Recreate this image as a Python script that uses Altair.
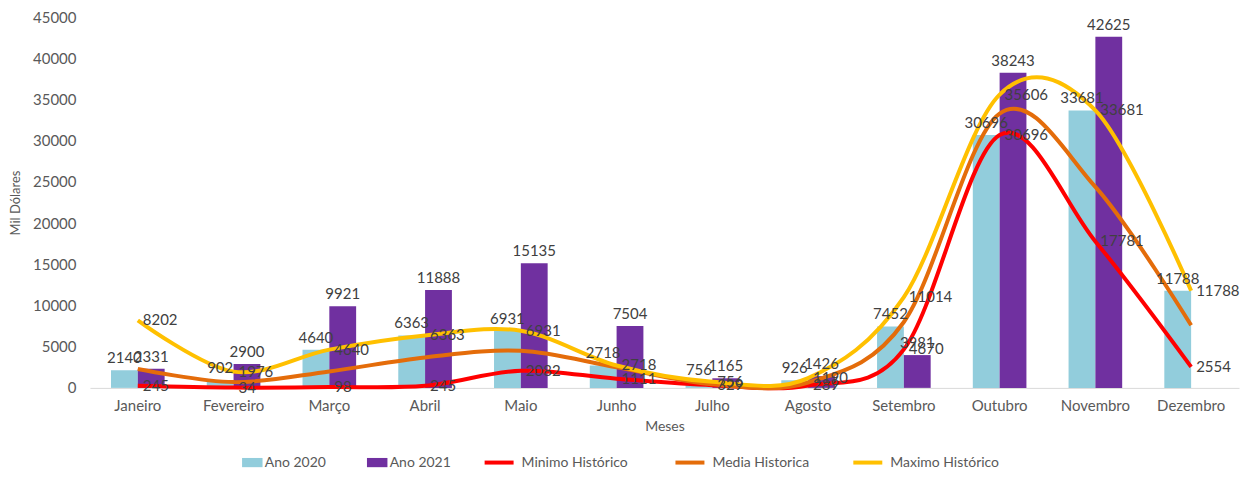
import altair as alt
import pandas as pd

meses = ["Janeiro", "Fevereiro", "Março", "Abril", "Maio", "Junho",
         "Julho", "Agosto", "Setembro", "Outubro", "Novembro", "Dezembro"]
ano2020 = [2140, 902, 4640, 6363, 6931, 2718, 756, 926, 7452, 30696, 33681, 11788]
ano2021 = [2331, 2900, 9921, 11888, 15135, 7504, 1165, 1426, 3981, 38243, 42625, None]
minimo = [245, 34, 98, 245, 2082, 1111, 329, 289, 4670, 30696, 17781, 2554]
media = [2300, 700, 2000, 3700, 4500, 2500, 450, 650, 8000, 33300, 24400, 7600]
maximo = [8202, 1976, 4640, 6363, 6931, 2718, 756, 1190, 11014, 35606, 33681, 11788]

bar_series = ["Ano 2020", "Ano 2021"]
bar_colors = ["#92cddc", "#7030a0"]
line_series = ["Minimo  Histórico", "Media Historica", "Maximo Histórico"]
line_colors = ["#ff0000", "#e46c0a", "#ffc000"]

bar_rows = []
for name, vals in zip(bar_series, [ano2020, ano2021]):
    for m, v in zip(meses, vals):
        if v is not None:
            bar_rows.append({"Mes": m, "Serie": name, "Valor": v})
df_bars = pd.DataFrame(bar_rows)

line_rows = []
for name, vals in zip(line_series, [minimo, media, maximo]):
    for m, v in zip(meses, vals):
        line_rows.append({"Mes": m, "Serie": name, "Valor": v})
df_lines = pd.DataFrame(line_rows)

FONT = "Lato"
GREY = "#595959"

x_enc = alt.X("Mes:N", sort=meses,
              scale=alt.Scale(paddingInner=0.44, paddingOuter=0.22),
              axis=alt.Axis(title="Meses", labelAngle=0, ticks=False,
                            domainColor="#d9d9d9", labelPadding=11,
                            labelFontSize=15, labelColor=GREY, labelFont=FONT,
                            titleFontSize=14, titleColor=GREY, titleFont=FONT,
                            titleFontWeight="normal", titlePadding=6))
y_enc = alt.Y("Valor:Q", scale=alt.Scale(domain=[0, 45000], nice=False),
              axis=alt.Axis(values=list(range(0, 45001, 5000)), format="d",
                            grid=False, domain=False, ticks=False,
                            labelPadding=14, labelFontSize=15, labelColor=GREY,
                            labelFont=FONT, title="Mil Dólares",
                            titleFontSize=13, titleColor=GREY, titleFont=FONT,
                            titleFontWeight="normal", titlePadding=10))
xoff = alt.XOffset("Serie:N", scale=alt.Scale(domain=bar_series,
                                              paddingInner=0, paddingOuter=0))

bars = alt.Chart(df_bars).mark_bar().encode(
    x=x_enc, y=y_enc, xOffset=xoff,
    color=alt.Color("Serie:N",
                    scale=alt.Scale(domain=bar_series, range=bar_colors),
                    legend=alt.Legend(orient="none", legendX=152, legendY=435,
                                      direction="horizontal", title=None,
                                      symbolType="M-1,-0.45H1V0.45H-1Z",
                                      symbolSize=420, symbolStrokeWidth=0,
                                      labelFontSize=14, labelColor=GREY,
                                      labelFont=FONT, columnPadding=40,
                                      labelOffset=2)))

bar_labels = alt.Chart(df_bars).mark_text(
    baseline="bottom", dy=-4, fontSize=15, font=FONT, color="#404040"
).encode(x=alt.X("Mes:N", sort=meses), y="Valor:Q", xOffset=xoff,
         text=alt.Text("Valor:Q", format="d"))

stroke_scale = alt.Scale(domain=line_series, range=line_colors)
line_legend = alt.Legend(orient="none", legendX=393, legendY=429,
                         direction="horizontal", title=None,
                         symbolType="stroke", symbolSize=841,
                         symbolStrokeWidth=4, labelFontSize=14,
                         labelColor=GREY, labelFont=FONT, columnPadding=36,
                         labelOffset=6)

line_layers = []
for name in line_series:
    line_layers.append(
        alt.Chart(df_lines).transform_filter(alt.datum.Serie == name)
        .mark_line(interpolate="cardinal", tension=0, strokeWidth=4)
        .encode(x=alt.X("Mes:N", sort=meses), y="Valor:Q",
                stroke=alt.Stroke("Serie:N", scale=stroke_scale,
                                  legend=line_legend))
    )

line_labels = alt.Chart(df_lines).transform_filter(
    alt.datum.Serie != "Media Historica"
).mark_text(align="left", baseline="middle", dx=5, fontSize=15, font=FONT,
            color="#404040").encode(
    x=alt.X("Mes:N", sort=meses), y="Valor:Q",
    text=alt.Text("Valor:Q", format="d"))

chart = alt.layer(bars, *line_layers, bar_labels, line_labels).properties(
    width=1150, height=371,
    background="white",
    autosize=alt.AutoSizeParams(type="none"),
    padding={"left": 82, "top": 9, "right": 10, "bottom": 81},
).configure_view(stroke=None)

chart.save("out.html", embed_options={"renderer": "svg", "actions": False})
